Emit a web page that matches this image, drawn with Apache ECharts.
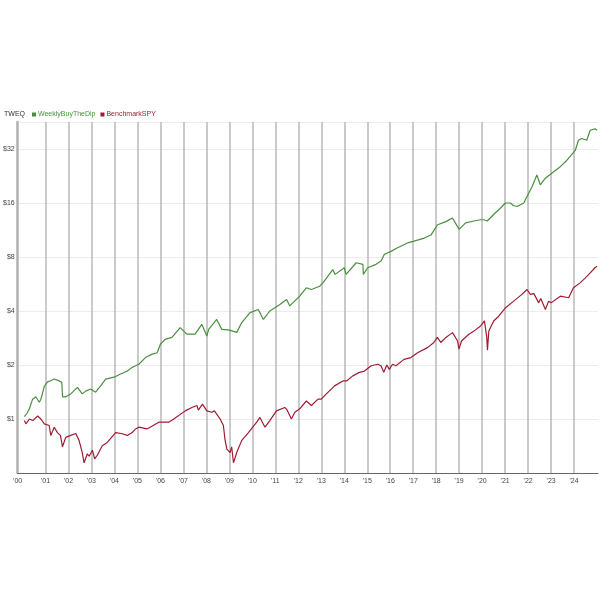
<!DOCTYPE html>
<html><head><meta charset="utf-8">
<script src="https://cdn.jsdelivr.net/npm/echarts@6/dist/echarts.min.js"></script>
<style>html,body{margin:0;padding:0;background:#fff}#c{width:600px;height:600px}</style>
</head><body><div id="c"></div>
<script>
const yearTicks = [2001,2002,2003,2004,2005,2006,2007,2008,2009,2010,2011,2012,2013,2014,2015,2016,2017,2018,2019,2020,2021,2022,2023,2024];
const yTicks = [1,2,4,8,16,32];
const seriesNames = ['WeeklyBuyTheDip','BenchmarkSPY'];

const greenYears = [2000.08,2000.2,2000.3,2000.44,2000.58,2000.73,2000.8,2000.95,2001.09,2001.25,2001.38,2001.6,2001.71,2001.74,2001.88,2002.1,2002.39,2002.46,2002.6,2002.75,2002.97,2003.18,2003.4,2003.62,2003.98,2004.27,2004.56,2004.77,2004.92,2005.06,2005.35,2005.64,2005.86,2006.0,2006.2,2006.5,2006.86,2007.15,2007.51,2007.8,2008.02,2008.1,2008.45,2008.67,2008.96,2009.32,2009.54,2009.9,2010.26,2010.48,2010.76,2011.2,2011.49,2011.63,2012.06,2012.35,2012.57,2012.93,2013.07,2013.5,2013.6,2014.0,2014.08,2014.52,2014.81,2014.83,2015.02,2015.38,2015.6,2015.74,2015.85,2016.03,2016.32,2016.75,2017.04,2017.48,2017.77,2018.06,2018.42,2018.71,2018.8,2019.0,2019.28,2019.64,2019.93,2020.07,2020.15,2020.22,2020.5,2020.8,2021.01,2021.23,2021.35,2021.52,2021.81,2021.95,2022.17,2022.38,2022.53,2022.75,2023.04,2023.4,2023.69,2024.05,2024.19,2024.33,2024.55,2024.7,2024.91,2025.0];
const greenValues = [1.03,1.08,1.14,1.29,1.33,1.24,1.29,1.52,1.61,1.64,1.67,1.63,1.60,1.33,1.33,1.38,1.50,1.52,1.38,1.43,1.47,1.41,1.53,1.67,1.71,1.78,1.85,1.94,1.98,2.02,2.20,2.30,2.34,2.61,2.78,2.85,3.23,2.97,2.97,3.37,2.90,3.16,3.59,3.16,3.14,3.04,3.45,3.92,4.08,3.59,4.00,4.35,4.64,4.27,4.84,5.39,5.27,5.50,5.74,6.80,6.40,6.97,6.40,7.43,7.28,6.40,6.97,7.28,7.60,8.27,8.40,8.60,9.00,9.58,9.80,10.2,10.6,12.1,12.6,13.2,12.6,11.4,12.4,12.7,12.9,12.9,13.2,12.7,13.8,15.0,16.0,16.0,15.5,15.3,16.0,17.4,19.7,22.9,20.2,22.0,23.5,25.5,27.7,31.4,35.8,36.6,35.8,40.7,41.5,40.7];

const redYears = [2000.08,2000.15,2000.3,2000.45,2000.66,2000.8,2000.95,2001.16,2001.23,2001.38,2001.52,2001.65,2001.74,2001.88,2002.1,2002.32,2002.46,2002.6,2002.68,2002.82,2002.9,2003.04,2003.14,2003.26,2003.47,2003.69,2004.05,2004.3,2004.56,2004.77,2004.92,2005.06,2005.42,2005.93,2006.36,2006.58,2007.08,2007.37,2007.59,2007.65,2007.83,2008.02,2008.24,2008.35,2008.6,2008.74,2008.81,2008.89,2009.03,2009.1,2009.18,2009.32,2009.54,2009.83,2010.19,2010.33,2010.4,2010.55,2010.76,2011.05,2011.41,2011.5,2011.7,2011.85,2012.06,2012.35,2012.57,2012.86,2013.0,2013.22,2013.58,2013.94,2014.1,2014.37,2014.66,2014.88,2015.17,2015.46,2015.6,2015.72,2015.85,2015.96,2016.1,2016.25,2016.6,2016.9,2017.19,2017.62,2017.9,2018.05,2018.2,2018.42,2018.71,2018.93,2018.99,2019.1,2019.42,2019.64,2019.93,2020.1,2020.2,2020.23,2020.29,2020.5,2020.72,2021.01,2021.37,2021.73,2021.95,2022.1,2022.25,2022.46,2022.55,2022.75,2022.89,2023.0,2023.4,2023.76,2023.97,2024.26,2024.48,2024.69,2024.91,2025.0];
const redValues = [0.98,0.94,1.00,0.98,1.04,1.00,0.94,0.92,0.81,0.90,0.84,0.81,0.70,0.79,0.81,0.83,0.76,0.65,0.57,0.64,0.62,0.67,0.60,0.63,0.71,0.74,0.84,0.83,0.81,0.84,0.88,0.90,0.88,0.96,0.96,1.00,1.11,1.16,1.19,1.12,1.21,1.11,1.09,1.11,1.00,0.92,0.77,0.68,0.65,0.70,0.57,0.65,0.76,0.84,0.96,1.02,1.02,0.90,0.98,1.11,1.16,1.13,1.00,1.09,1.14,1.26,1.19,1.29,1.29,1.38,1.53,1.63,1.63,1.74,1.82,1.85,1.98,2.02,1.98,1.82,2.00,1.89,2.02,1.98,2.15,2.20,2.34,2.50,2.67,2.85,2.67,2.85,3.03,2.72,2.45,2.72,2.97,3.09,3.30,3.52,2.85,2.42,3.09,3.52,3.74,4.16,4.54,4.95,5.27,4.95,5.00,4.44,4.70,4.08,4.54,4.44,4.84,4.74,5.39,5.74,6.10,6.50,6.97,7.10];

const xMin = 1999.79, xMax = 2025.04;
const green = '#4a8f3f', red = '#a01c32';

const chart = echarts.init(document.getElementById('c'), null, {renderer:'canvas'});
chart.setOption({
  animation: false,
  backgroundColor: '#fff',
  title: {text: 'TWEQ', left: 4, top: 111, padding: 0, textStyle: {fontSize: 7, fontWeight: 'normal', color: '#333', fontFamily: 'Liberation Sans'}},
  legend: {
    left: 32, top: 111, icon: 'rect', itemWidth: 4, itemHeight: 4, itemGap: 5, padding: 0,
    textStyle: {fontSize: 7, fontFamily: 'Liberation Sans', padding: [0,0,0,-3]},
    data: [{name: seriesNames[0], textStyle: {color: green}}, {name: seriesNames[1], textStyle: {color: red}}]
  },
  grid: {left: 15, right: 2, top: 122, bottom: 127, containLabel: false},
  xAxis: {
    type: 'value', min: xMin, max: xMax,
    axisLine: {show: true, lineStyle: {color: '#666', width: 1}},
    axisTick: {show: false, customValues: yearTicks},
    splitLine: {show: true, lineStyle: {color: '#b8b8b8', width: 1.5}},
    axisLabel: {customValues: [xMin].concat(yearTicks), fontSize: 7, color: '#444', margin: 5, fontFamily: 'Liberation Sans',
      formatter: v => "'" + String(Math.round(v) % 100).padStart(2, '0')}
  },
  yAxis: {
    type: 'log', logBase: 2, min: 0.5, max: 45.25,
    axisLine: {show: true, onZero: false, lineStyle: {color: '#b0b0b0', width: 2.5}},
    axisTick: {show: false},
    splitLine: {show: true, lineStyle: {color: '#ececec', width: 1}},
    axisLabel: {fontSize: 7, color: '#444', margin: 3, fontFamily: 'Liberation Sans',
      formatter: v => yTicks.indexOf(Math.round(v)) >= 0 && v >= 0.9 ? '$' + Math.round(v) : ''}
  },
  series: [
    {name: seriesNames[0], type: 'line', showSymbol: false, color: green, lineStyle: {width: 1.2, color: green},
      data: greenYears.map((x, i) => [x, greenValues[i]])},
    {name: seriesNames[1], type: 'line', showSymbol: false, color: red, lineStyle: {width: 1.2, color: red},
      data: redYears.map((x, i) => [x, redValues[i]])}
  ]
});
</script></body></html>
